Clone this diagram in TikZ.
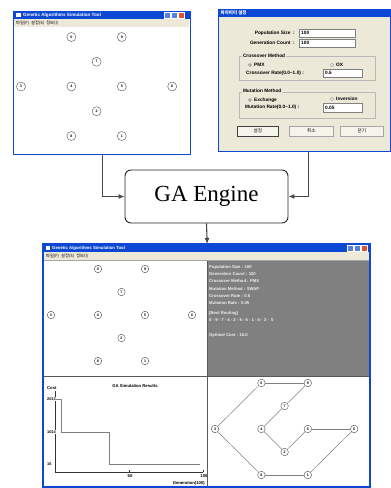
\documentclass[tikz,border=0pt]{standalone}
\usepackage{fontspec}
\setmainfont{Liberation Serif}
\newfontfamily\uifont{Liberation Sans}
\newfontfamily\kofont{Noto Sans CJK KR}
\usetikzlibrary{arrows.meta}
\usetikzlibrary{positioning}
\definecolor{xpblue}{RGB}{12,72,212}
\definecolor{xpbeige}{RGB}{236,233,216}
\definecolor{xpred}{RGB}{222,84,44}
\definecolor{panelgray}{RGB}{128,128,128}
\definecolor{linkgray}{RGB}{72,72,72}

\begin{document}
\begin{tikzpicture}[x=1pt,y=-1pt,>={Latex[length=6pt,width=5pt]},
  win/.style={draw=xpblue,line width=1.4pt,inner sep=0pt,anchor=north west},
  tbtext/.style={anchor=west,inner sep=0pt,text=white,font=\uifont\bfseries\fontsize{4.6}{5}\selectfont},
  menutext/.style={anchor=west,inner sep=0pt,font=\kofont\fontsize{4.2}{5}\selectfont},
  lbl/.style={anchor=west,inner sep=0pt,font=\uifont\bfseries\fontsize{4.8}{5}\selectfont},
  field/.style={draw=gray,fill=white,line width=0.4pt},
  btn/.style={draw=gray!70,fill=xpbeige!50!white,line width=0.5pt,inner sep=0pt,anchor=north west,font=\kofont\fontsize{4.6}{5}\selectfont},
  group/.style={draw=gray!55,line width=0.4pt},
  city/.style={circle,draw=black!70,fill=white,line width=0.4pt,inner sep=0pt,minimum size=7.5pt,font=\uifont\bfseries\fontsize{3.6}{4}\selectfont},
  route/.style={draw=gray,line width=0.5pt},
  panel/.style={anchor=west,inner sep=0pt,text=gray!12,font=\uifont\bfseries\fontsize{4.2}{5}\selectfont},
  chart/.style={inner sep=0pt,font=\uifont\bfseries\fontsize{4.2}{5}\selectfont},
  engine/.style={draw=black!85,line width=0.9pt,rounded corners=6pt,fill=white,minimum width=163pt,minimum height=53pt,font=\fontsize{23}{23}\selectfont},
  link/.style={draw=linkgray,line width=1.1pt}]
  \useasboundingbox (0,0) rectangle (391,488);

  % simulation window (input)
  \node[win,fill=white,minimum width=177pt,minimum height=143pt] (simwin) at (13,11) {};
  \fill[xpblue] (13,11) rectangle (190,19);
  \fill[white] (15.5,13) rectangle +(5,4);
  \node[tbtext] at (23,15) {Genetic Algorithms Simulation Tool};
  \filldraw[fill=xpblue!70!white,draw=white,line width=0.3pt] (164,12.3) rectangle +(6,5.6);
  \filldraw[fill=xpblue!70!white,draw=white,line width=0.3pt] (171,12.3) rectangle +(6,5.6);
  \filldraw[fill=xpred,draw=white,line width=0.3pt] (178,12.3) rectangle +(6,5.6);
  \fill[xpbeige] (13.7,19) rectangle (189.3,27);
  \node[menutext] at (16,23) {파일(F)\enspace 설정(S)\enspace 정보(I)};
  \foreach \n/\c/\r in {0/2/0,9/4/0,7/3/1,3/0/2,4/2/2,5/4/2,6/6/2,2/3/3,8/2/4,1/4/4}
    \node[city,minimum size=9pt] (a\n) at ({21+25.2*\c},{37+24.75*\r}) {\n};

  % parameter dialog
  \node[win,fill=xpbeige,minimum width=172pt,minimum height=142pt] (dlg) at (218,9) {};
  \fill[xpblue] (218,9) rectangle (390,17);
  \node[tbtext,font=\kofont\bfseries\fontsize{4.5}{5}\selectfont] at (220.5,13) {파라미터 설정};
  \node[lbl,anchor=east] at (295,33) {Population Size \ :};
  \node[lbl,anchor=east] at (295,43) {Generation Count \ :};
  \draw[field] (299,29) rectangle (355,37);
  \draw[field] (299,39) rectangle (355,47);
  \node[lbl] at (301,33) {100};
  \node[lbl] at (301,43) {100};

  \draw[group] (239,56) rectangle (375,80);
  \node[lbl,fill=xpbeige,inner sep=0.8pt] at (242,55.5) {Crossover Method};
  \filldraw[fill=white,draw=gray,line width=0.3pt] (250,65) circle (1.6);
  \fill (250,65) circle (0.6);
  \node[lbl] at (254,65) {PMX};
  \draw[fill=white,draw=gray,line width=0.3pt] (332,65) circle (1.6);
  \node[lbl] at (336,65) {OX};
  \node[lbl] at (246,73) {Crossover Rate(0.0\textasciitilde1.0) :};
  \draw[field] (323,69) rectangle (362,77);
  \node[lbl] at (325,73) {0.6};

  \draw[group] (239,92) rectangle (375,118);
  \node[lbl,fill=xpbeige,inner sep=0.8pt] at (242,91) {Mutation Method};
  \filldraw[fill=white,draw=gray,line width=0.3pt] (250,100) circle (1.6);
  \fill (250,100) circle (0.6);
  \node[lbl] at (254,100.5) {Exchange};
  \draw[fill=white,draw=gray,line width=0.3pt] (332,99) circle (1.6);
  \node[lbl] at (336,99) {Inversion};
  \node[lbl] at (245,107) {Mutation Rate(0.0\textasciitilde1.0) :};
  \draw[field] (323,103) rectangle (362,112);
  \node[lbl] at (325,107.5) {0.05};

  \node[btn,draw=black!75,minimum width=41pt,minimum height=10pt] (bset) at (237,126) {설정};
  \node[btn,minimum width=44pt,minimum height=10pt] (bcancel) at (289,126) {취소};
  \node[btn,minimum width=43pt,minimum height=10pt] (bclose) at (340,126) {닫기};

  % engine
  \node[engine] (engine) at (206.5,196.5) {GA Engine};

  % result window
  \node[win,fill=white,minimum width=327pt,minimum height=243pt] (result) at (43,244) {};
  \fill[xpblue] (43,244) rectangle (370,252);
  \fill[white] (45.5,246) rectangle +(4.5,4);
  \node[tbtext,font=\uifont\bfseries\fontsize{4.3}{5}\selectfont] at (52,248) {Genetic Algorithms Simulation Tool};
  \filldraw[fill=xpblue!70!white,draw=white,line width=0.3pt] (347,245.3) rectangle +(6,5.6);
  \filldraw[fill=xpblue!70!white,draw=white,line width=0.3pt] (354,245.3) rectangle +(6,5.6);
  \filldraw[fill=xpred,draw=white,line width=0.3pt] (361,245.3) rectangle +(6,5.6);
  \fill[xpbeige] (43.7,252) rectangle (369.3,260);
  \node[menutext] at (46,256) {파일(F)\enspace 설정(S)\enspace 정보(I)};
  \draw[gray!70,line width=0.6pt] (43.7,260.5) -- (369.3,260.5);

  % city map
  \foreach \n/\c/\r in {0/2/0,9/4/0,7/3/1,3/0/2,4/2/2,5/4/2,6/6/2,2/3/3,8/2/4,1/4/4}
    \node[city] (b\n) at ({51+23.5*\c},{269+23*\r}) {\n};

  % result text
  \fill[panelgray] (207,261) rectangle (369.3,376);
  \node[panel] at (209,267) {Population Size : 100};
  \node[panel] at (209,274.2) {Generation Count : 100};
  \node[panel] at (209,281.4) {Crossover Method : PMX};
  \node[panel] at (209,288.6) {Mutation Method : SWAP};
  \node[panel] at (209,295.8) {Crossover Rate : 0.6};
  \node[panel] at (209,303) {Mutation Rate : 0.05};
  \node[panel] at (209,313) {[Best Routing]};
  \node[panel] at (209,320.5) {0 - 9 - 7 - 4 - 2 - 5 - 6 - 1 - 8 - 3 - \ 0};
  \node[panel] at (209,335) {Optimal Cost : 16.0};

  % cost chart
  \node[chart,anchor=west] (costlbl) at (47,388) {Cost};
  \node[chart] (charttitle) at (135,386) {GA Simulation Results};
  \draw[black!80,line width=0.5pt] (55,391) -- (55,472) -- (203,472);
  \draw[black!80,line width=0.5pt] (129,472) -- (129,470) (203,472) -- (203,470);
  \draw[gray,line width=0.6pt] (55,399) -- (61,399) -- (61,432) -- (109,432) -- (109,464.5) -- (200,464.5);
  \node[chart,anchor=west,fill=white,inner sep=0.4pt,font=\uifont\bfseries\fontsize{3.9}{5}\selectfont] at (46.5,399) {2013};
  \node[chart,anchor=west,fill=white,inner sep=0.4pt,font=\uifont\bfseries\fontsize{3.9}{5}\selectfont] at (46.5,432) {1014};
  \node[chart,anchor=west,fill=white,inner sep=0.4pt,font=\uifont\bfseries\fontsize{3.9}{5}\selectfont] at (46.5,464) {16};
  \node[chart] at (130,476) {50};
  \node[chart] at (204,476) {100};
  \node[chart,anchor=east] at (205,483) {Generation(100)};

  % best route
  \fill[white] (207.4,376.4) rectangle (369.3,487);
  \foreach \n/\c/\r in {0/2/0,9/4/0,7/3/1,3/0/2,4/2/2,5/4/2,6/6/2,2/3/3,8/2/4,1/4/4}
    \node[city] (r\n) at ({215+23.2*\c},{383+23*\r}) {\n};
  \foreach \u/\v in {0/9,9/7,7/4,4/2,2/5,5/6,6/1,1/8,8/3,3/0}
    \draw[route] (r\u) -- (r\v);

  \draw[black!65,line width=0.8pt] (207,261) -- (207,487);
  \draw[black!65,line width=0.8pt] (43.7,376) -- (369.3,376);
  \draw[xpblue,line width=1.4pt] (43,244) rectangle (370,487);

  % connectors
  \draw[link,->] (simwin.south) |- (engine.west);
  \draw[link,->] ([xshift=4pt]dlg.south) |- (engine.east);
  \draw[link,->] (engine.south) -- (result.north);
\end{tikzpicture}
\end{document}
